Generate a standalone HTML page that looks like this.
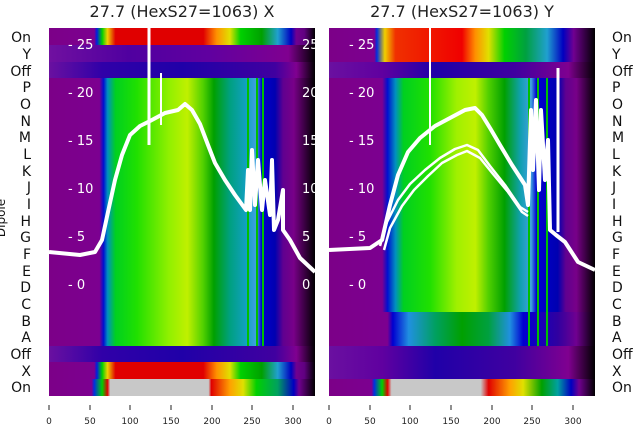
<!DOCTYPE html>
<html><head><meta charset="utf-8"><style>
body{margin:0;background:#fff;}
svg{display:block;font-family:"DejaVu Sans","Liberation Sans",sans-serif;}
</style></head><body>
<svg width="640" height="440" viewBox="0 0 640 440" xmlns="http://www.w3.org/2000/svg">
<defs>
<linearGradient id="bodyL" gradientUnits="userSpaceOnUse" x1="49" x2="315" y1="0" y2="0">
<stop offset="0" stop-color="#7c0088"/><stop offset="0.19" stop-color="#7c0090"/>
<stop offset="0.205" stop-color="#0010d0"/><stop offset="0.22" stop-color="#0090c0"/>
<stop offset="0.25" stop-color="#00d020"/><stop offset="0.33" stop-color="#20e000"/>
<stop offset="0.45" stop-color="#90f000"/><stop offset="0.52" stop-color="#c0f000"/>
<stop offset="0.58" stop-color="#50d000"/><stop offset="0.62" stop-color="#00a000"/>
<stop offset="0.68" stop-color="#00a080"/><stop offset="0.74" stop-color="#10a0c0"/>
<stop offset="0.78" stop-color="#40a0e0"/><stop offset="0.8" stop-color="#0000d0"/>
<stop offset="0.85" stop-color="#0000b0"/><stop offset="0.88" stop-color="#600090"/>
<stop offset="0.92" stop-color="#780088"/><stop offset="1" stop-color="#000"/>
</linearGradient>
<linearGradient id="hotL" gradientUnits="userSpaceOnUse" x1="49" x2="315" y1="0" y2="0">
<stop offset="0" stop-color="#7c0088"/><stop offset="0.17" stop-color="#7c0090"/>
<stop offset="0.18" stop-color="#0020e0"/><stop offset="0.2" stop-color="#00d000"/>
<stop offset="0.22" stop-color="#f0d000"/><stop offset="0.25" stop-color="#e00000"/>
<stop offset="0.58" stop-color="#e00000"/><stop offset="0.63" stop-color="#ff9000"/>
<stop offset="0.68" stop-color="#e0e000"/><stop offset="0.72" stop-color="#00d000"/>
<stop offset="0.8" stop-color="#00a000"/><stop offset="0.86" stop-color="#20a0d0"/>
<stop offset="0.91" stop-color="#0000c0"/><stop offset="0.93" stop-color="#700090"/>
<stop offset="0.96" stop-color="#600080"/><stop offset="1" stop-color="#000"/>
</linearGradient>
<linearGradient id="indL" gradientUnits="userSpaceOnUse" x1="49" x2="315" y1="0" y2="0">
<stop offset="0" stop-color="#6a10a0"/><stop offset="0.2" stop-color="#3000a8"/>
<stop offset="0.5" stop-color="#2000a8"/><stop offset="0.85" stop-color="#4000a0"/>
<stop offset="0.93" stop-color="#800090"/><stop offset="1" stop-color="#000"/>
</linearGradient>
<linearGradient id="yL" gradientUnits="userSpaceOnUse" x1="49" x2="315" y1="0" y2="0">
<stop offset="0" stop-color="#7010a0"/><stop offset="0.3" stop-color="#5000a0"/>
<stop offset="0.6" stop-color="#6000a0"/><stop offset="0.9" stop-color="#800090"/>
<stop offset="1" stop-color="#000"/>
</linearGradient>
<linearGradient id="indR" gradientUnits="userSpaceOnUse" x1="329" x2="595" y1="0" y2="0">
<stop offset="0" stop-color="#6a10a0"/><stop offset="0.2" stop-color="#6000a0"/>
<stop offset="0.4" stop-color="#2000a8"/><stop offset="0.7" stop-color="#4000a0"/>
<stop offset="0.9" stop-color="#800090"/><stop offset="1" stop-color="#000"/>
</linearGradient>
<linearGradient id="bodyR" gradientUnits="userSpaceOnUse" x1="329" x2="595" y1="0" y2="0">
<stop offset="0" stop-color="#7c0088"/><stop offset="0.2" stop-color="#7c0090"/>
<stop offset="0.22" stop-color="#0010d0"/><stop offset="0.25" stop-color="#0090c0"/>
<stop offset="0.28" stop-color="#00d020"/><stop offset="0.38" stop-color="#20e000"/>
<stop offset="0.48" stop-color="#a0f000"/><stop offset="0.55" stop-color="#c0f000"/>
<stop offset="0.6" stop-color="#50d000"/><stop offset="0.66" stop-color="#00a000"/>
<stop offset="0.72" stop-color="#10a0b0"/><stop offset="0.76" stop-color="#40a0e0"/>
<stop offset="0.78" stop-color="#0000d0"/><stop offset="0.86" stop-color="#0000b0"/>
<stop offset="0.89" stop-color="#600090"/><stop offset="0.93" stop-color="#780088"/>
<stop offset="1" stop-color="#000"/>
</linearGradient>
<linearGradient id="abR" gradientUnits="userSpaceOnUse" x1="329" x2="595" y1="0" y2="0">
<stop offset="0" stop-color="#7c0088"/><stop offset="0.22" stop-color="#7c0090"/>
<stop offset="0.24" stop-color="#0000d0"/><stop offset="0.3" stop-color="#2090e0"/>
<stop offset="0.4" stop-color="#00a060"/><stop offset="0.5" stop-color="#00a000"/>
<stop offset="0.6" stop-color="#00a040"/><stop offset="0.68" stop-color="#2090e0"/>
<stop offset="0.73" stop-color="#0000d0"/><stop offset="0.86" stop-color="#3000a0"/>
<stop offset="0.93" stop-color="#700090"/><stop offset="1" stop-color="#000"/>
</linearGradient>
<linearGradient id="hotR" gradientUnits="userSpaceOnUse" x1="329" x2="595" y1="0" y2="0">
<stop offset="0" stop-color="#7c0088"/><stop offset="0.17" stop-color="#7c0090"/>
<stop offset="0.18" stop-color="#0030e0"/><stop offset="0.21" stop-color="#f0d000"/>
<stop offset="0.25" stop-color="#f03000"/><stop offset="0.5" stop-color="#f00000"/>
<stop offset="0.55" stop-color="#ff9000"/><stop offset="0.6" stop-color="#e0e000"/>
<stop offset="0.66" stop-color="#00d000"/><stop offset="0.74" stop-color="#00a040"/>
<stop offset="0.82" stop-color="#20a0d0"/><stop offset="0.88" stop-color="#0000c0"/>
<stop offset="0.92" stop-color="#700090"/><stop offset="1" stop-color="#000"/>
</linearGradient>
<linearGradient id="grayL" gradientUnits="userSpaceOnUse" x1="49" x2="315" y1="0" y2="0">
<stop offset="0" stop-color="#7c0088"/><stop offset="0.16" stop-color="#7c0090"/>
<stop offset="0.17" stop-color="#0030e0"/><stop offset="0.2" stop-color="#00d000"/>
<stop offset="0.22" stop-color="#e00000"/><stop offset="0.23" stop-color="#c8c8c8"/>
<stop offset="0.6" stop-color="#c8c8c8"/><stop offset="0.61" stop-color="#e00000"/>
<stop offset="0.68" stop-color="#ffa000"/><stop offset="0.73" stop-color="#e0e000"/>
<stop offset="0.78" stop-color="#00d000"/><stop offset="0.86" stop-color="#00a060"/>
<stop offset="0.92" stop-color="#0000c0"/><stop offset="0.94" stop-color="#700090"/>
<stop offset="1" stop-color="#000"/>
</linearGradient>
<linearGradient id="grayR" gradientUnits="userSpaceOnUse" x1="329" x2="595" y1="0" y2="0">
<stop offset="0" stop-color="#7c0088"/><stop offset="0.16" stop-color="#7c0090"/>
<stop offset="0.17" stop-color="#0030e0"/><stop offset="0.2" stop-color="#00d000"/>
<stop offset="0.22" stop-color="#e00000"/><stop offset="0.235" stop-color="#c8c8c8"/>
<stop offset="0.57" stop-color="#c8c8c8"/><stop offset="0.6" stop-color="#e00000"/>
<stop offset="0.68" stop-color="#ffa000"/><stop offset="0.73" stop-color="#e0e000"/>
<stop offset="0.8" stop-color="#00a000"/><stop offset="0.86" stop-color="#00a0a0"/>
<stop offset="0.91" stop-color="#0000c0"/><stop offset="0.94" stop-color="#700090"/>
<stop offset="1" stop-color="#000"/>
</linearGradient>
</defs>

<text x="182" y="17" font-size="16" text-anchor="middle" fill="#222">27.7 (HexS27=1063) X</text>
<text x="462" y="17" font-size="16" text-anchor="middle" fill="#222">27.7 (HexS27=1063) Y</text>

<!-- LEFT panel -->
<rect x="49" y="28" width="266" height="17" fill="url(#hotL)"/>
<rect x="49" y="45" width="266" height="17" fill="url(#yL)"/>
<rect x="49" y="62" width="266" height="17" fill="url(#indL)"/>
<rect x="49" y="78" width="266" height="268" fill="url(#bodyL)"/>
<rect x="49" y="346" width="266" height="17" fill="url(#indL)"/>
<rect x="49" y="362" width="266" height="17" fill="url(#hotL)"/>
<rect x="49" y="379" width="266" height="17" fill="url(#grayL)"/>
<g fill="#00c000"><rect x="247" y="78" width="2" height="268"/><rect x="256" y="78" width="2" height="268"/><rect x="262" y="78" width="2" height="268"/></g>

<!-- RIGHT panel -->
<rect x="329" y="28" width="266" height="34" fill="url(#hotR)"/>
<rect x="329" y="62" width="266" height="17" fill="url(#indR)"/>
<rect x="329" y="78" width="266" height="234" fill="url(#bodyR)"/>
<rect x="329" y="312" width="266" height="34" fill="url(#abR)"/>
<rect x="329" y="346" width="266" height="33" fill="url(#indR)"/>
<rect x="329" y="379" width="266" height="17" fill="url(#grayR)"/>
<g fill="#00c000"><rect x="528" y="78" width="2" height="268"/><rect x="537" y="78" width="2" height="268"/><rect x="546" y="78" width="2" height="268"/></g>

<g fill="none" stroke="#fff" stroke-linejoin="round">
<line x1="149" y1="28" x2="149" y2="145" stroke-width="3"/>
<line x1="161" y1="73" x2="161" y2="125" stroke-width="2"/>
<polyline stroke-width="4" points="49,252 80,255 95,252 102,240 108,212 115,180 122,155 130,135 140,126 150,121 165,113 178,110 185,104 192,110 200,124 208,145 215,163 225,180 235,195 246,210 248,170 250,210 252,150 255,205 258,160 262,210 265,180 270,215 272,160 274,230 278,220 283,190 283,230 290,240 300,258 315,272"/>
</g>
<g fill="none" stroke="#fff" stroke-linejoin="round">
<line x1="430" y1="28" x2="430" y2="145" stroke-width="2"/>
<line x1="558" y1="68" x2="558" y2="232" stroke-width="3"/>
<polyline stroke-width="4" points="329,250 370,248 382,240 390,205 398,175 408,152 420,138 435,126 450,118 465,110 475,108 482,115 490,128 500,145 512,165 525,185 528,205 531,110 533,170 536,100 539,190 541,110 545,180 548,140 550,230 556,235 565,242 578,262 595,270"/>
<polyline stroke-width="2.5" points="380,246 387,222 398,200 410,184 425,170 440,158 455,149 467,145 478,150 490,166 505,185 520,207 528,212"/>
<polyline stroke-width="2.5" points="384,250 390,228 402,206 414,190 428,176 442,163 457,155 467,151 480,158 493,174 508,192 522,212 528,216"/>
</g>

<g fill="#fff" font-size="13">
<text x="68" y="49">- 25</text><text x="68" y="97">- 20</text><text x="68" y="145">- 15</text>
<text x="68" y="193">- 10</text><text x="68" y="241">- 5</text><text x="68" y="289">- 0</text>
<text x="349" y="49">- 25</text><text x="349" y="97">- 20</text><text x="349" y="145">- 15</text>
<text x="349" y="193">- 10</text><text x="349" y="241">- 5</text><text x="349" y="289">- 0</text>
<text x="302" y="49">25</text><text x="302" y="97">20</text><text x="302" y="145">15</text>
<text x="302" y="193">10</text><text x="302" y="241">5</text><text x="302" y="289">0</text>
</g>
<rect x="315" y="28" width="13" height="370" fill="#fff"/>

<g font-size="14" fill="#111">
<g text-anchor="end">
<text x="31" y="42">On</text><text x="31" y="59">Y</text><text x="31" y="76">Off</text>
<text x="31" y="92">P</text><text x="31" y="109">O</text><text x="31" y="126">N</text>
<text x="31" y="142">M</text><text x="31" y="159">L</text><text x="31" y="176">K</text>
<text x="31" y="192">J</text><text x="31" y="209">I</text><text x="31" y="226">H</text>
<text x="31" y="242">G</text><text x="31" y="259">F</text><text x="31" y="276">E</text>
<text x="31" y="292">D</text><text x="31" y="309">C</text><text x="31" y="326">B</text>
<text x="31" y="342">A</text><text x="31" y="359">Off</text><text x="31" y="376">X</text>
<text x="31" y="392">On</text>
</g>
<g>
<text x="612" y="42">On</text><text x="612" y="59">Y</text><text x="612" y="76">Off</text>
<text x="612" y="92">P</text><text x="612" y="109">O</text><text x="612" y="126">N</text>
<text x="612" y="142">M</text><text x="612" y="159">L</text><text x="612" y="176">K</text>
<text x="612" y="192">J</text><text x="612" y="209">I</text><text x="612" y="226">H</text>
<text x="612" y="242">G</text><text x="612" y="259">F</text><text x="612" y="276">E</text>
<text x="612" y="292">D</text><text x="612" y="309">C</text><text x="612" y="326">B</text>
<text x="612" y="342">A</text><text x="612" y="359">Off</text><text x="612" y="376">X</text>
<text x="612" y="392">On</text>
</g>
<text x="0" y="0" font-size="12" transform="translate(5 218) rotate(-90)" text-anchor="middle">Dipole</text>
</g>

<g stroke="#222" stroke-width="1">
<line x1="49" y1="405" x2="49" y2="410"/><line x1="90" y1="405" x2="90" y2="410"/><line x1="130" y1="405" x2="130" y2="410"/>
<line x1="171" y1="405" x2="171" y2="410"/><line x1="212" y1="405" x2="212" y2="410"/><line x1="252" y1="405" x2="252" y2="410"/><line x1="293" y1="405" x2="293" y2="410"/>
<line x1="329" y1="405" x2="329" y2="410"/><line x1="370" y1="405" x2="370" y2="410"/><line x1="410" y1="405" x2="410" y2="410"/>
<line x1="451" y1="405" x2="451" y2="410"/><line x1="492" y1="405" x2="492" y2="410"/><line x1="532" y1="405" x2="532" y2="410"/><line x1="573" y1="405" x2="573" y2="410"/>
</g>
<g font-size="9" fill="#222" text-anchor="middle">
<text x="49" y="424">0</text><text x="90" y="424">50</text><text x="130" y="424">100</text><text x="171" y="424">150</text>
<text x="212" y="424">200</text><text x="252" y="424">250</text><text x="293" y="424">300</text>
<text x="329" y="424">0</text><text x="370" y="424">50</text><text x="410" y="424">100</text><text x="451" y="424">150</text>
<text x="492" y="424">200</text><text x="532" y="424">250</text><text x="573" y="424">300</text>
</g>
</svg>
</body></html>
